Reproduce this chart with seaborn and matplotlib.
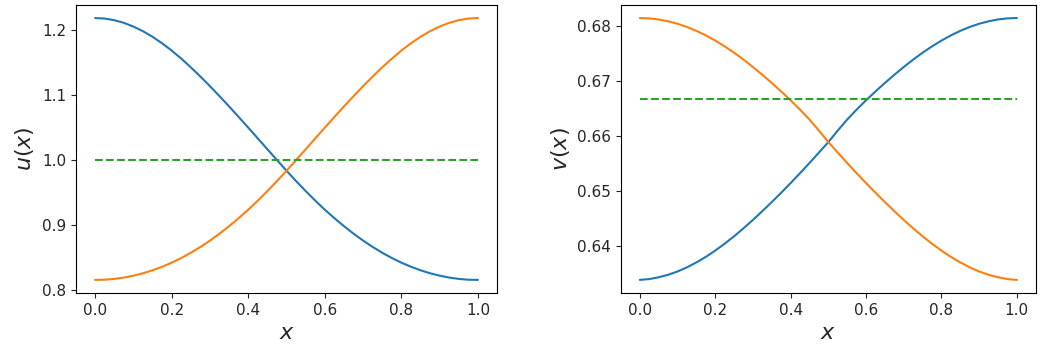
import numpy as np
import pandas as pd
import matplotlib
matplotlib.use("Agg")
import matplotlib.pyplot as plt
from matplotlib.ticker import MultipleLocator
import seaborn as sns

sns.set_style("ticks")
plt.rcParams['font.family'] = ['DejaVu Sans']

# x grid
x = [0.000, 0.025, 0.050, 0.075, 0.100, 0.125, 0.150, 0.175, 0.200, 0.225,
     0.250, 0.275, 0.300, 0.325, 0.350, 0.375, 0.400, 0.425, 0.450, 0.475,
     0.500, 0.525, 0.550, 0.575, 0.600, 0.625, 0.650, 0.675, 0.700, 0.725,
     0.750, 0.775, 0.800, 0.825, 0.850, 0.875, 0.900, 0.925, 0.950, 0.975, 1.000]

# left panel u(x)
u_blue = [1.2180, 1.2172, 1.2147, 1.2106, 1.2049, 1.1977, 1.1891, 1.1791, 1.1679, 1.1555,
          1.1421, 1.1279, 1.1131, 1.0977, 1.0819, 1.0657, 1.0493, 1.0327, 1.0160, 0.9995,
          0.9830, 0.9670, 0.9517, 0.9370, 0.9230, 0.9100, 0.8977, 0.8862, 0.8755, 0.8657,
          0.8568, 0.8487, 0.8415, 0.8352, 0.8298, 0.8252, 0.8215, 0.8186, 0.8165, 0.8153, 0.8150]
u_orange = [0.8150, 0.8153, 0.8165, 0.8186, 0.8215, 0.8252, 0.8298, 0.8352, 0.8415, 0.8487,
            0.8568, 0.8657, 0.8755, 0.8862, 0.8977, 0.9100, 0.9230, 0.9370, 0.9517, 0.9670,
            0.9830, 0.9995, 1.0160, 1.0327, 1.0493, 1.0657, 1.0819, 1.0977, 1.1131, 1.1279,
            1.1421, 1.1555, 1.1679, 1.1791, 1.1891, 1.1977, 1.2049, 1.2106, 1.2147, 1.2172, 1.2180]
u_mean = [1.0] * len(x)

# right panel v(x)
v_orange = [0.68140, 0.68134, 0.68114, 0.68081, 0.68036, 0.67978, 0.67907, 0.67825, 0.67730, 0.67625,
            0.67510, 0.67385, 0.67250, 0.67108, 0.66960, 0.66805, 0.66645, 0.66475, 0.66295, 0.66095,
            0.65885, 0.65695, 0.65505, 0.65320, 0.65140, 0.64965, 0.64795, 0.64630, 0.64470, 0.64318,
            0.64173, 0.64038, 0.63913, 0.63798, 0.63698, 0.63608, 0.63533, 0.63473, 0.63428, 0.63395, 0.63380]
v_blue = [0.63380, 0.63395, 0.63428, 0.63473, 0.63533, 0.63608, 0.63698, 0.63798, 0.63913, 0.64038,
          0.64173, 0.64318, 0.64470, 0.64630, 0.64795, 0.64965, 0.65140, 0.65320, 0.65505, 0.65695,
          0.65885, 0.66095, 0.66295, 0.66475, 0.66645, 0.66805, 0.66960, 0.67108, 0.67250, 0.67385,
          0.67510, 0.67625, 0.67730, 0.67825, 0.67907, 0.67978, 0.68036, 0.68081, 0.68114, 0.68134, 0.68140]
v_mean = [0.66667] * len(x)

pal = sns.color_palette("tab10")

fig = plt.figure(figsize=(10.5, 3.53), dpi=100)
ax1 = fig.add_axes([0.0724, 0.170, 0.401, 0.816])
ax2 = fig.add_axes([0.5914, 0.170, 0.395, 0.816])

sns.lineplot(x=x, y=u_blue, ax=ax1, color=pal[0], lw=1.5)
sns.lineplot(x=x, y=u_orange, ax=ax1, color=pal[1], lw=1.5)
sns.lineplot(x=x, y=u_mean, ax=ax1, color=pal[2], lw=1.5, linestyle="--")
ax1.set_xlabel("$x$", fontsize=16)
ax1.set_ylabel("$u(x)$", fontsize=16)
ax1.yaxis.set_major_locator(MultipleLocator(0.1))

sns.lineplot(x=x, y=v_blue, ax=ax2, color=pal[0], lw=1.5)
sns.lineplot(x=x, y=v_orange, ax=ax2, color=pal[1], lw=1.5)
sns.lineplot(x=x, y=v_mean, ax=ax2, color=pal[2], lw=1.5, linestyle="--")
ax2.set_xlabel("$x$", fontsize=16)
ax2.set_ylabel("$v(x)$", fontsize=16)
ax2.yaxis.set_major_locator(MultipleLocator(0.01))

for ax in (ax1, ax2):
    ax.tick_params(labelsize=11)
    for s in ax.spines.values():
        s.set_visible(True)
        s.set_color("black")

plt.savefig("out.png", dpi=100)
